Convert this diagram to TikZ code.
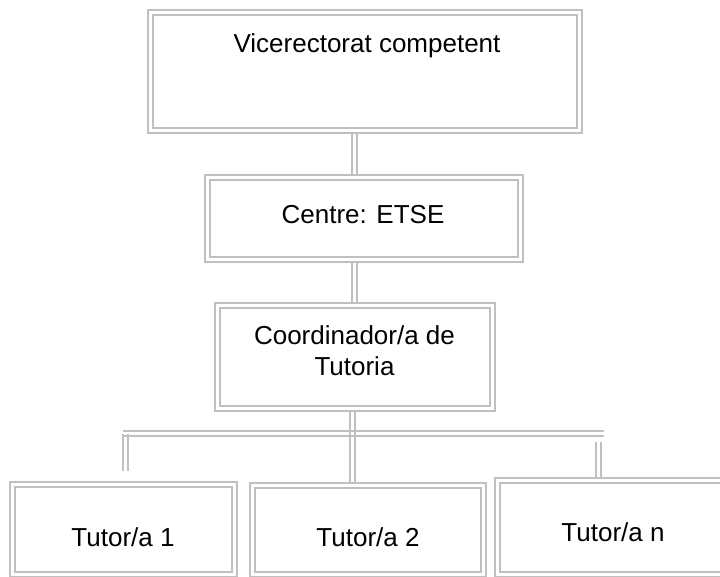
\documentclass[tikz,border=0pt]{standalone}
\usepackage{fontspec}
\setmainfont{Liberation Sans}
\definecolor{lg}{RGB}{192,192,192}
\begin{document}
\begin{tikzpicture}[x=1pt,y=-1pt,
  box/.style={rectangle, inner sep=0pt, outer sep=0pt, draw=lg, line width=2pt, double=white, double distance=3pt},
  txt/.style={inner sep=0pt, anchor=base, font=\fontsize{26}{31}\selectfont},
  vdbl/.style={draw=none,
    preaction={draw=lg, line width=2pt, transform canvas={xshift=-2.5pt}},
    postaction={draw=lg, line width=2pt, transform canvas={xshift=2.5pt}}},
  hdbl/.style={draw=none,
    preaction={draw=lg, line width=2pt, transform canvas={yshift=-2.5pt}},
    postaction={draw=lg, line width=2pt, transform canvas={yshift=2.5pt}}}]
\useasboundingbox (0,0) rectangle (720,576);
\clip (0,0) rectangle (720,576);
% box geometry (centres, sizes)
\path (365,71.25) node[box, minimum width=429pt, minimum height=117.5pt] (top) {};
\path (364,218.25) node[box, minimum width=313pt, minimum height=81.5pt] (cc) {};
\path (355,356.75) node[box, minimum width=275pt, minimum height=103.5pt] (co) {};
\path (123.5,529.5) node[box, minimum width=222pt, minimum height=90pt] (t1) {};
\path (367.75,530) node[box, minimum width=231.5pt, minimum height=89pt] (t2) {};
\path (611,527.5) node[box, minimum width=228pt, minimum height=94pt] (tn) {};
% connectors
\coordinate (busL) at (123,433.5);
\coordinate (busR) at (604,433.5);
\coordinate (l1) at (125.5,434);
\coordinate (l2) at (125.5,471);
\coordinate (r1) at (598,442);
\path[vdbl] ([xshift=-10.5pt]top.south) -- ([xshift=-10.5pt]top.south |- cc.north);
\path[vdbl] ([xshift=-1pt]co.north |- cc.south) -- ([xshift=-1pt]co.north);
\path[hdbl] (busL) -- (busR);
\path[vdbl] ([xshift=-2.5pt]co.south) -- ([xshift=-2.5pt]co.south |- t2.north);
\path[vdbl] (l1) -- (l2);
\path[vdbl] (r1) -- (r1 |- tn.north);
% redraw boxes over connector ends
\path (365,71.25) node[box, minimum width=429pt, minimum height=117.5pt] {};
\path (364,218.25) node[box, minimum width=313pt, minimum height=81.5pt] {};
\path (355,356.75) node[box, minimum width=275pt, minimum height=103.5pt] {};
\path (123.5,529.5) node[box, minimum width=222pt, minimum height=90pt] {};
\path (367.75,530) node[box, minimum width=231.5pt, minimum height=89pt] {};
\path (611,527.5) node[box, minimum width=228pt, minimum height=94pt] {};
% texts
\node[txt] (toptxt) at (367,52) {Vicerectorat competent};
\node[txt] (cctxt) at (363,223) {Centre: ETSE};
\node[txt] (cotxta) at (354.5,344) {Coordinador/a de};
\node[txt] (cotxtb) at (354.5,375) {Tutoria};
\node[txt] (t1txt) at (123,546) {Tutor/a 1};
\node[txt] (t2txt) at (368,546) {Tutor/a 2};
\node[txt] (tntxt) at (613,541) {Tutor/a n};
\end{tikzpicture}
\end{document}
